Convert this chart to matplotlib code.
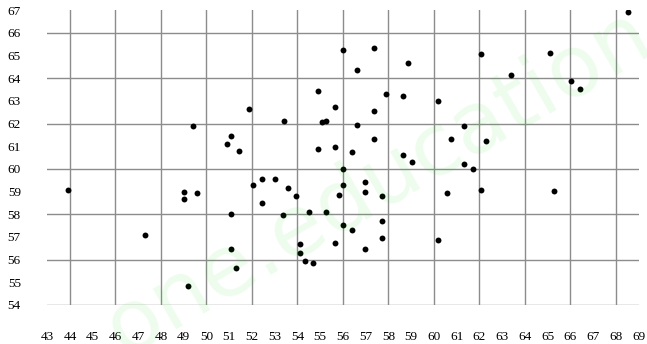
import matplotlib
matplotlib.use('Agg')
import matplotlib.pyplot as plt
import numpy as np

plt.rcParams.update({'font.size': 9.5, 'font.family': ['Liberation Serif', 'DejaVu Serif']})

# scatter data
x_vals = [49.4, 43.9, 49.0, 49.0, 49.6, 47.3, 49.2,
          56.0, 57.35, 58.85, 56.6, 54.9, 57.9, 58.65, 51.85, 55.65, 57.35,
          53.4, 55.1, 55.25, 56.6, 51.1, 50.9, 57.35, 51.45, 54.9, 55.65,
          56.4, 58.65, 59.05, 56.0,
          52.05, 52.45, 53.0, 53.57, 53.93, 52.43, 56.0, 55.84, 56.97, 56.97,
          57.73, 51.1, 53.38, 54.5, 55.27, 57.73, 56.0, 56.41, 57.73, 54.12,
          55.65, 54.12, 56.97, 51.1, 54.32, 54.7, 51.3,
          68.53, 62.08, 65.11, 63.41, 66.05, 66.43, 60.19, 61.32, 60.75, 62.27,
          61.32, 61.7, 60.57, 62.08, 65.3, 60.19]
y_vals = [61.9, 59.08, 58.98, 58.67, 58.95, 57.1, 54.82,
          65.26, 65.32, 64.68, 64.38, 63.45, 63.32, 63.22, 62.63, 62.75, 62.56,
          62.1, 62.08, 62.13, 61.94, 61.45, 61.11, 61.31, 60.78, 60.88, 60.98,
          60.73, 60.6, 60.32, 59.98,
          59.29, 59.57, 59.57, 59.14, 58.82, 58.51, 59.29, 58.83, 59.42, 58.98,
          58.79, 58.01, 57.98, 58.08, 58.11, 57.71, 57.51, 57.29, 56.95, 56.67,
          56.74, 56.3, 56.45, 56.45, 55.92, 55.83, 55.62,
          66.94, 65.07, 65.13, 64.16, 63.87, 63.53, 62.98, 61.89, 61.31, 61.22,
          60.22, 60.0, 58.95, 59.08, 59.01, 56.87]

x_ticks = list(range(43, 70))
y_ticks = list(range(54, 68))
x_grid = list(range(44, 69, 2))
y_grid = list(range(54, 67, 2))

fig = plt.figure(figsize=(6.47, 3.44), dpi=100)
ax = fig.add_axes([0.073, 0.1134, 0.914, 0.857])

# watermark
fig.text(0.585, 0.47, 'one.education', fontsize=62, family='DejaVu Sans',
         color='#00e000', alpha=0.07, rotation=30, ha='center', va='center',
         zorder=0)

for gx in x_grid:
    ax.axvline(gx, color='#8c8c8c', linewidth=1.0, zorder=1)
for gy in y_grid:
    ax.axhline(gy, color='#8c8c8c', linewidth=1.0, zorder=1)

ax.scatter(x_vals, y_vals, s=18, color='black', zorder=3, linewidths=0)

ax.set_xlim(43, 69)
ax.set_ylim(54, 67)
ax.set_xticks(x_ticks)
ax.set_yticks(y_ticks)
ax.tick_params(which='both', length=0)
ax.tick_params(axis='x', pad=19)
ax.tick_params(axis='y', pad=19)
for s in ax.spines.values():
    s.set_visible(False)
ax.patch.set_alpha(0)

fig.savefig('out.png', dpi=100)
